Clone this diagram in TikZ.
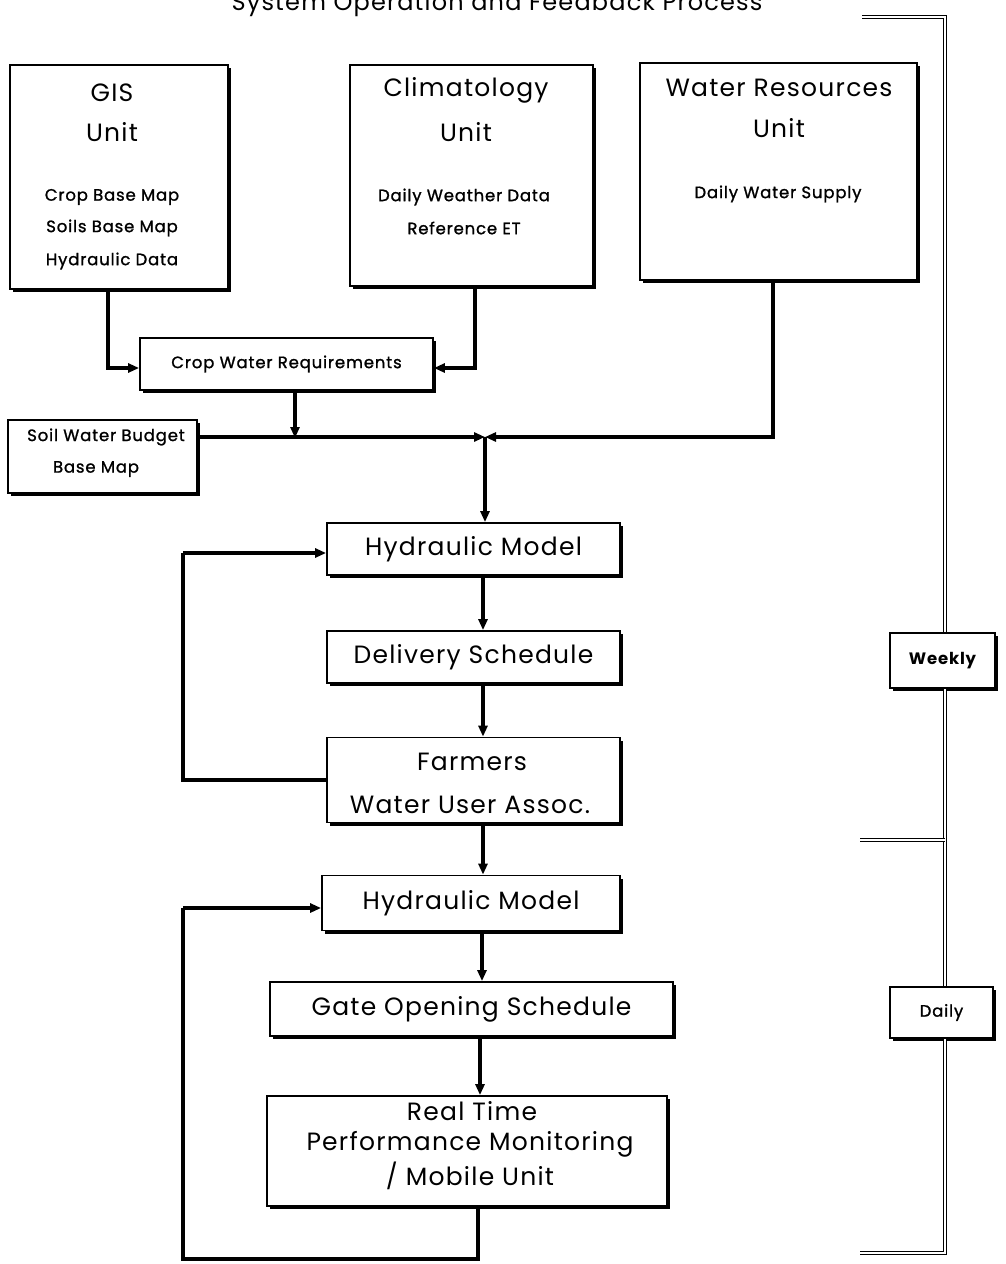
\documentclass[tikz,border=0pt]{standalone}
\usepackage{fontspec}
\setmainfont{Poppins}[LetterSpace=5]
\usetikzlibrary{arrows.meta,shadows}

\tikzset{
  unitbox/.style={draw, line width=1.8pt, fill=white, inner sep=0pt,
    drop shadow={shadow xshift=3pt, shadow yshift=-3pt, opacity=1, fill=black}},
  bigtxt/.style={font=\fontsize{25}{28}\selectfont, inner sep=0pt},
  smalltxt/.style={font=\fontsize{16.5}{19}\selectfont\addfontfeatures{FakeBold=1.2}, inner sep=0pt},
  flow/.style={line width=3.6pt, -{Triangle[length=11pt,width=9pt]}},
  feed/.style={line width=3.4pt},
  rail/.style={double, double distance=2.4pt, line width=1.2pt},
}

\begin{document}
\begin{tikzpicture}[x=1pt, y=-1pt]
\useasboundingbox[fill=white] (0,0) rectangle (1005,1264);

% heading, partly cut off by the page edge
\node[font=\fontsize{24}{26}\selectfont, anchor=base, inner sep=0pt] (title) at (497,10)
  {System Operation and Feedback Process};

% source units
\node[unitbox, minimum width=218pt, minimum height=224pt] (gis) at (119,177) {};
\node[bigtxt] (gisA) at (112,93) {GIS};
\node[bigtxt] (gisB) at (112,132) {Unit};
\node[smalltxt] (gisC) at (112,197) {Crop Base Map};
\node[smalltxt] (gisD) at (112,228) {Soils Base Map};
\node[smalltxt] (gisE) at (112,261) {Hydraulic Data};

\node[unitbox, minimum width=243pt, minimum height=221pt] (clim) at (471.5,175.5) {};
\node[bigtxt] (climA) at (466,90) {Climatology};
\node[bigtxt] (climB) at (466,132) {Unit};
\node[smalltxt] (climC) at (464,197) {Daily Weather Data};
\node[smalltxt] (climD) at (464,228) {Reference ET};

\node[unitbox, minimum width=277pt, minimum height=217pt] (wres) at (778.5,171.5) {};
\node[bigtxt] (wresA) at (779,88) {Water Resources};
\node[bigtxt] (wresB) at (779,128) {Unit};
\node[smalltxt] (wresC) at (778,194) {Daily Water Supply};

% intermediate products
\node[unitbox, smalltxt, inner sep=0pt, minimum width=293pt, minimum height=52pt] (cwr) at (286.5,364) {Crop Water Requirements};
\node[unitbox, minimum width=189pt, minimum height=73pt] (swb) at (102.5,456.5) {};
\node[smalltxt] (swbA) at (106,437) {Soil Water Budget};
\node[smalltxt] (swbB) at (96,469) {Base Map};

% operation chain
\node[unitbox, bigtxt, minimum width=293pt, minimum height=52pt] (hm1) at (473.5,549) {Hydraulic Model};
\node[unitbox, bigtxt, minimum width=293pt, minimum height=52pt] (ds) at (473.5,657) {Delivery Schedule};
\node[unitbox, minimum width=293pt, minimum height=85pt] (fa) at (473.5,780) {};
\node[bigtxt] (faA) at (472,762) {Farmers};
\node[bigtxt] (faB) at (470,805) {Water User Assoc.};
\node[unitbox, bigtxt, minimum width=298pt, minimum height=55pt] (hm2) at (471,903) {Hydraulic Model};
\node[unitbox, bigtxt, minimum width=403pt, minimum height=54pt] (gos) at (471.5,1009) {Gate Opening Schedule};
\node[unitbox, minimum width=400pt, minimum height=110pt] (rt) at (467,1151) {};
\node[bigtxt] (rtA) at (472,1111) {Real Time};
\node[bigtxt] (rtB) at (470,1144) {Performance Monitoring};
\node[bigtxt] (rtC) at (470,1176) {/ Mobile Unit};

% time-step labels on the right rail
\node[unitbox, font=\fontsize{16.5}{19}\selectfont\bfseries, minimum width=105pt, minimum height=55pt] (weekly) at (942.5,660.5) {Weekly};
\node[unitbox, smalltxt, minimum width=103pt, minimum height=51pt] (daily) at (941.5,1012.5) {Daily};

% junction points
\coordinate (jn) at (485,437);
\coordinate (gisturn) at (108,368);
\coordinate (climturn) at (475,368);
\coordinate (wresturn) at (773,437);
\coordinate (fbA) at (183,553);
\coordinate (fbB) at (183,780);
\coordinate (fbC) at (183,908);
\coordinate (fbD) at (183,1259);
\coordinate (rtbot) at (478,1259);

% inputs to crop water requirements
\draw[flow] (gis.south -| gisturn) -- (gisturn) -- (cwr.west |- gisturn);
\draw[flow] (clim.south -| climturn) -- (climturn) -- (cwr.east |- climturn);
\draw[flow, shorten >=-1pt] (cwr.south -| 295,0) -- (295,437);

% collecting line into the hydraulic model
\draw[flow, line width=3.2pt] (swb.east |- jn) -- (jn);
\draw[flow] (wres.south -| wresturn) -- (wresturn) -- (jn);
\draw[flow] (jn) -- (hm1.north -| jn);

% main chain
\draw[flow] (hm1.south -| 483,0) -- (ds.north -| 483,0);
\draw[flow] (ds.south -| 483,0) -- (fa.north -| 483,0);
\draw[flow] (fa.south -| 483,0) -- (hm2.north -| 483,0);
\draw[flow] (hm2.south -| 482,0) -- (gos.north -| 482,0);
\draw[flow] (gos.south -| 480,0) -- (rt.north -| 480,0);

% feedback loops
\draw[feed] (fa.west |- fbB) -- (fbB) -- (fbA);
\draw[flow, line width=3.4pt] (fbA) -- (hm1.west |- fbA);
\draw[feed] (rt.south -| rtbot) -- (rtbot) -- (fbD) -- (fbC);
\draw[flow, line width=3.4pt] (fbC) -- (hm2.west |- fbC);

% time rail
\coordinate (railtop) at (945,17);
\coordinate (railmid) at (945,840);
\coordinate (railbot) at (945,1253);
\draw[rail] (862,17) -- (railtop) -- (weekly.north -| railtop);
\draw[rail] (weekly.south -| railtop) -- (daily.north -| railtop);
\draw[rail] (860,840) -- (railmid);
\draw[rail] (daily.south -| railtop) -- (railbot) -- (860,1253);
\end{tikzpicture}
\end{document}
